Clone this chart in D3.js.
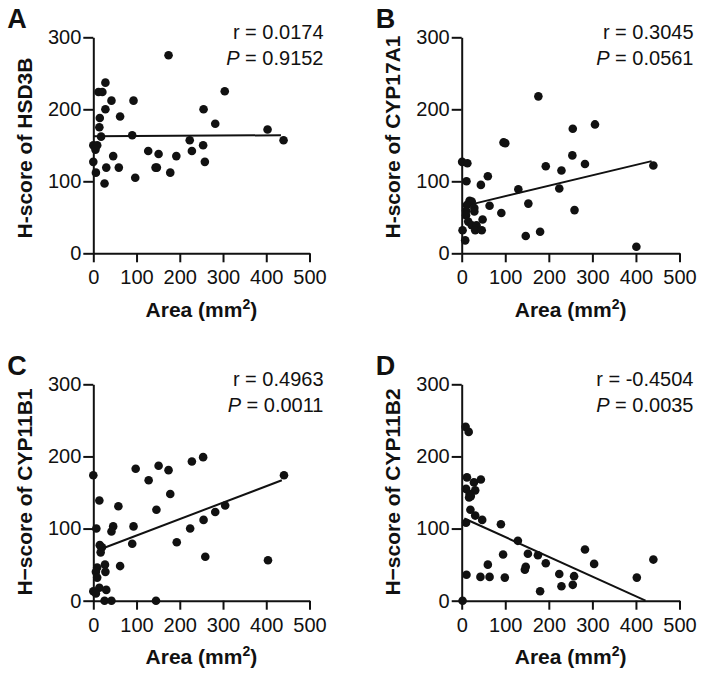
<!DOCTYPE html>
<html>
<head>
<meta charset="utf-8">
<script src="https://cdn.jsdelivr.net/npm/d3@7"></script>
<style>
  body { margin: 0; background: white; }
  svg { display: block; font-family: Arial, "Liberation Sans", sans-serif; }
</style>
</head>
<body>
<svg></svg>
<script>
// values: area (mm2) vs H-score
let areaA = [174, 28, 12, 21, 42, 93, 304, 28, 255, 15, 62, 14, 282, 403, 18, 90, 440, 223, 0, 9, 5, 254, 228, 127, 151, 46, 192, 0, 258, 30, 59, 144, 147, 6, 178, 26, 97];
let scoreA = [275, 237, 224, 224, 212, 212, 225, 200, 200, 188, 190, 175, 180, 172, 162, 164, 157, 157, 150, 150, 144, 150, 142, 142, 138, 135, 135, 127, 127, 119, 119, 119, 119, 112, 112, 97, 105];

let areaB = [176, 96, 100, 306, 255, 254, 283, 193, 229, 440, 1, 13, 11, 60, 44, 130, 224, 18, 23, 12, 64, 153, 29, 29, 10, 10, 259, 91, 48, 15, 23, 34, 2, 31, 46, 180, 147, 8, 401];
let scoreB = [218, 154, 153, 179, 173, 136, 124, 121, 115, 122, 127, 125, 100, 107, 95, 89, 90, 73, 72, 67, 66, 69, 63, 58, 59, 53, 60, 56, 47, 44, 39, 39, 32, 32, 32, 30, 24, 18, 9];

let areaC = [0, 98, 151, 174, 228, 254, 128, 178, 14, 58, 146, 305, 282, 441, 255, 7, 46, 42, 93, 224, 15, 20, 17, 90, 193, 259, 404, 62, 27, 9, 6, 9, 28, 14, 30, 0, 6, 26, 42, 145];
let scoreC = [174, 183, 187, 181, 193, 199, 167, 148, 139, 131, 126, 132, 123, 174, 112, 100, 103, 96, 103, 100, 77, 74, 67, 79, 81, 61, 56, 48, 50, 46, 40, 32, 40, 18, 15, 13, 10, 0, 0, 0];

let areaD = [9, 16, 12, 28, 44, 10, 31, 18, 17, 21, 20, 31, 47, 10, 90, 129, 95, 152, 175, 283, 193, 304, 440, 60, 147, 145, 224, 11, 43, 64, 99, 258, 255, 229, 402, 180, 2];
let scoreD = [241, 234, 171, 164, 168, 155, 153, 148, 143, 145, 126, 118, 112, 108, 106, 83, 64, 65, 63, 71, 52, 51, 57, 50, 47, 43, 37, 36, 33, 33, 32, 34, 22, 20, 32, 13, 0];

// regression line end points [area, score]
let fitA = [[0, 162.5], [434, 164]];
let fitB = [[29, 69], [436, 128]];
let fitC = [[15, 71], [436, 167]];
let fitD = [[6, 114], [422, 0]];

let letters = ["A", "B", "C", "D"];
let yTitles = ["H-score of HSD3B", "H-score of CYP17A1", "H\u2212score of CYP11B1", "H\u2212score of CYP11B2"];
let rValues = ["0.0174", "0.3045", "0.4963", "-0.4504"];
let pValues = ["0.9152", "0.0561", "0.0011", "0.0035"];

let xTicks = [0, 100, 200, 300, 400, 500];
let yTicks = [0, 100, 200, 300];

let width = 704;
let height = 677;

// plot frames of each panel, in pixels
let frames = [
  {left: 93.3, right: 309.5, top: 37.3, bottom: 253.3, titleY: 148},
  {left: 461.7, right: 679.5, top: 37.3, bottom: 253.3, titleY: 137},
  {left: 93.3, right: 309.5, top: 384.3, bottom: 600.7, titleY: 492},
  {left: 461.7, right: 679.5, top: 384.3, bottom: 600.7, titleY: 492}
];

let svg = d3.select("svg")
            .attr("width", width)
            .attr("height", height)
            .style("background-color", "white");

let panels = [
  {area: areaA, score: scoreA, fit: fitA},
  {area: areaB, score: scoreB, fit: fitB},
  {area: areaC, score: scoreC, fit: fitC},
  {area: areaD, score: scoreD, fit: fitD}
];

panels.forEach((p, i) => drawPanel(p, i));

function drawPanel(panel, i){
    let f = frames[i];
    let g = svg.append("g");

    let scaleX = d3.scaleLinear().domain([0, 500]).range([f.left, f.right]);
    let scaleY = d3.scaleLinear().domain([0, 300]).range([f.bottom, f.top]);

    let xAxis = d3.axisBottom(scaleX).tickValues(xTicks).tickSize(9).tickSizeOuter(0).tickPadding(8);
    let yAxis = d3.axisLeft(scaleY).tickValues(yTicks).tickSize(10).tickSizeOuter(0).tickPadding(2);

    let gx = g.append("g")
       .attr("transform", `translate(0, ${f.bottom})`)
       .call(xAxis);
    let gy = g.append("g")
       .attr("transform", `translate(${f.left}, 0)`)
       .call(yAxis);

    [gx, gy].forEach(ax => {
        ax.selectAll("path, line").attr("stroke", "#111").attr("stroke-width", 2);
        ax.selectAll("text")
          .attr("fill", "#111")
          .style("font-size", "20px")
          .style("font-family", "Arial, 'Liberation Sans', sans-serif");
    });

    // points
    let points = panel.area.map((a, k) => ({area: a, score: panel.score[k]}));
    g.selectAll("circle")
     .data(points)
     .enter()
     .append("circle")
     .attr("cx", d => scaleX(d.area))
     .attr("cy", d => scaleY(d.score))
     .attr("r", 4.3)
     .attr("fill", "#111");

    // regression line
    let line = d3.line().x(d => scaleX(d[0])).y(d => scaleY(d[1]));
    g.append("path")
     .attr("d", line(panel.fit))
     .attr("fill", "none")
     .attr("stroke", "#111")
     .attr("stroke-width", 2);

    // panel letter
    g.append("text")
     .attr("x", f.left - 86)
     .attr("y", f.top - 9)
     .style("font-size", "27px")
     .style("font-weight", "bold")
     .attr("fill", "#111")
     .text(letters[i]);

    // stats
    let sx = f.right + 14;
    g.append("text")
     .attr("x", sx)
     .attr("y", f.top + 1.7)
     .attr("text-anchor", "end")
     .style("font-size", "20px")
     .attr("fill", "#111")
     .text("r = " + rValues[i]);
    let pt = g.append("text")
     .attr("x", sx)
     .attr("y", f.top + 27.7)
     .attr("text-anchor", "end")
     .style("font-size", "20px")
     .attr("fill", "#111");
    pt.append("tspan").style("font-style", "italic").text("P");
    pt.append("tspan").text(" = " + pValues[i]);

    // x title
    let xt = g.append("text")
     .attr("x", (f.left + f.right) / 2)
     .attr("y", f.bottom + 63.3)
     .attr("text-anchor", "middle")
     .style("font-size", "21px")
     .style("font-weight", "bold")
     .attr("fill", "#111");
    xt.append("tspan").text("Area (mm");
    xt.append("tspan").attr("dy", -8).style("font-size", "14px").text("2");
    xt.append("tspan").attr("dy", 8).text(")");

    // y title
    g.append("text")
     .attr("transform", `translate(${f.left - 61.6}, ${f.titleY}) rotate(-90)`)
     .attr("text-anchor", "middle")
     .style("font-size", "21px")
     .style("font-weight", "bold")
     .attr("fill", "#111")
     .text(yTitles[i]);
}
</script>
</body>
</html>
